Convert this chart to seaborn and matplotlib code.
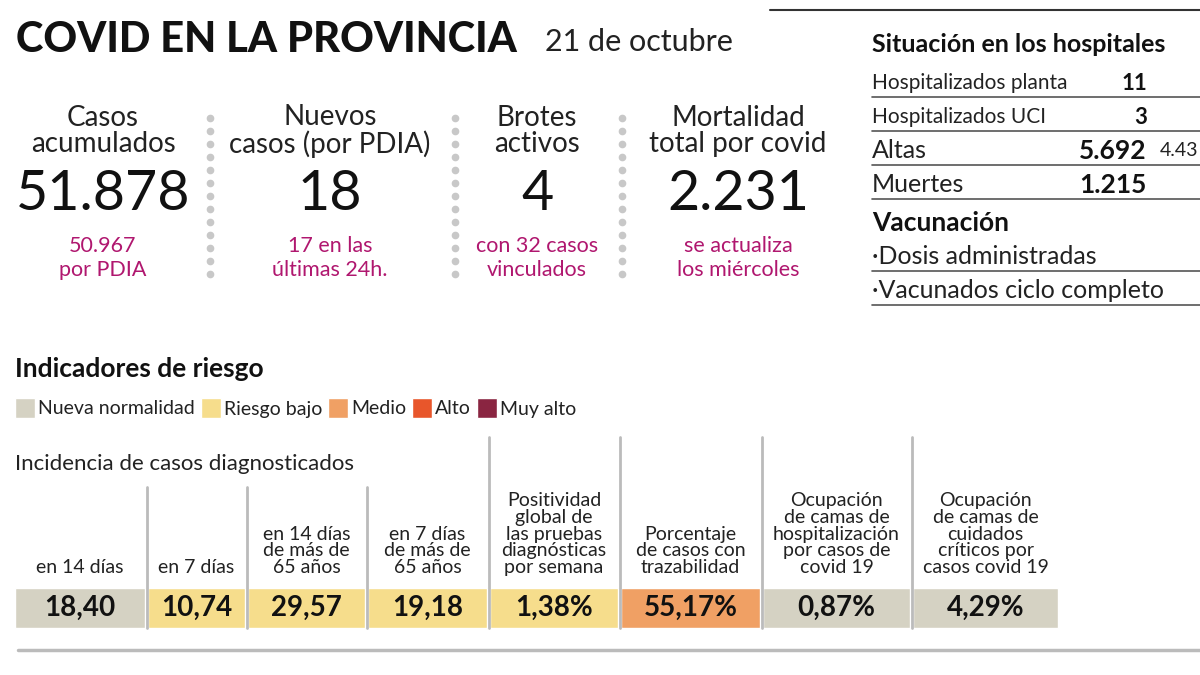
import matplotlib
matplotlib.use("Agg")
import matplotlib.pyplot as plt
import seaborn as sns

# === Data ===
top_titles = ["Casos\nacumulados", "Nuevos\ncasos (por PDIA)", "Brotes\nactivos", "Mortalidad\ntotal por covid"]
top_values = ["51.878", "18", "4", "2.231"]
top_notes = ["50.967\npor PDIA", "17 en las\núltimas 24h.", "con 32 casos\nvinculados", "se actualiza\nlos miércoles"]

hosp_labels = ["Hospitalizados planta", "Hospitalizados UCI", "Altas", "Muertes"]
hosp_values = ["11", "3", "5.692", "1.215"]
vac_labels = ["·Dosis administradas", "·Vacunados ciclo completo"]

risk_names = ["Nueva normalidad", "Riesgo bajo", "Medio", "Alto", "Muy alto"]
risk_colors = ["#d5d2c3", "#f6dd8c", "#f0a064", "#e8562b", "#8a2541"]

ind_headers = ["en 14 días", "en 7 días", "en 14 días\nde más de\n65 años", "en 7 días\nde más de\n65 años",
               "Positividad\nglobal de\nlas pruebas\ndiagnósticas\npor semana",
               "Porcentaje\nde casos con\ntrazabilidad",
               "Ocupación\nde camas de\nhospitalización\npor casos de\ncovid 19",
               "Ocupación\nde camas de\ncuidados\ncríticos por\ncasos covid 19"]
ind_values = ["18,40", "10,74", "29,57", "19,18", "1,38%", "55,17%", "0,87%", "4,29%"]
ind_levels = [0, 1, 1, 1, 1, 2, 0, 0]

sns.set_theme(style="white")
plt.rcParams['font.family'] = ['Lato', 'DejaVu Sans']

fig = plt.figure(figsize=(12, 6.75), dpi=100)
ax = fig.add_axes([0, 0, 1, 1])
ax.set_xlim(0, 1200)
ax.set_ylim(675, 0)
ax.axis("off")
renderer = fig.canvas.get_renderer()

# --- Title ---
ax.text(16, 40, "COVID EN LA PROVINCIA", fontsize=30, fontweight="black", va="center", color="#111")
ax.text(545, 42, "21 de octubre", fontsize=22, va="center", color="#222")

# --- Top stats ---
magenta = "#b0176f"
centers = [103, 330, 537, 738]
for cx, t, v, n in zip(centers, top_titles, top_values, top_notes):
    ax.text(cx, 131, t, fontsize=20, ha="center", va="center", color="#222", linespacing=1.0)
    ax.text(cx, 195, v, fontsize=40, ha="center", va="center", color="#111")
    ax.text(cx, 258, n, fontsize=15.5, ha="center", va="center", color=magenta, linespacing=1.2)
for x in [210, 455, 622]:
    ax.plot([x] * 13, [118 + 13 * i for i in range(13)], "o", color="#c8c8c8", ms=4.5)

# --- Hospital box ---
ax.plot([770, 1200], [10, 10], color="#333", lw=1.5)
ax.text(872, 44, "Situación en los hospitales", fontsize=18, fontweight="bold", va="center", color="#111")
for i, (lab, val) in enumerate(zip(hosp_labels, hosp_values)):
    y = 83 + 34 * i
    ax.text(872, y, lab, fontsize=15 if i < 2 else 18, va="center", color="#222")
    ax.text(1147, y, val, fontsize=16 if i < 2 else 19, fontweight="bold", ha="right", va="center", color="#111")
    ax.plot([872, 1200], [y + 14, y + 14], color="#555", lw=1.2)
ax.text(1160, 150, "4.43", fontsize=14, va="center", color="#222")
ax.text(872, 223, "Vacunación", fontsize=19, fontweight="bold", va="center", color="#111")
for i, lab in enumerate(vac_labels):
    y = 257 + 34 * i
    ax.text(872, y, lab, fontsize=18, va="center", color="#222")
    ax.plot([872, 1200], [y + 14, y + 14], color="#555", lw=1.2)

# --- Risk legend ---
ax.text(15, 369, "Indicadores de riesgo", fontsize=19, fontweight="bold", va="center", color="#111")
lx = 15
for name, col in zip(risk_names, risk_colors):
    ax.bar(lx, 20, width=20, bottom=398, align="edge", color=col)
    t = ax.text(lx + 23, 409, name, fontsize=14, va="center", color="#222")
    w = t.get_window_extent(renderer).width
    lx += 23 + w + 6

# --- Indicator table ---
ax.text(15, 464, "Incidencia de casos diagnosticados", fontsize=16, va="center", color="#222")
lefts = [15, 148, 248, 368, 490, 621, 763, 913]
rights = [145, 245, 365, 487, 618, 760, 910, 1058]
for i, (l, r) in enumerate(zip(lefts, rights)):
    ax.bar(l, 40, width=r - l, bottom=588, align="edge", color=risk_colors[ind_levels[i]])
    cx = (l + r) / 2
    ax.text(cx, 608, ind_values[i], fontsize=20, fontweight="bold", ha="center", va="center", color="#111")
    ax.text(cx, 576, ind_headers[i], fontsize=14, ha="center", va="bottom", color="#222",
            linespacing=0.98, fontstretch="condensed")
for x, y0 in zip([146.5, 246.5, 366.5, 488.5, 619.5, 761.5, 911.5], [487, 487, 487, 437, 437, 437, 437]):
    ax.plot([x, x], [y0, 628], color="#bbbbbb", lw=2)
ax.plot([18, 1200], [650, 650], color="#bbbbbb", lw=2.5)

fig.savefig("out.png", dpi=100)
